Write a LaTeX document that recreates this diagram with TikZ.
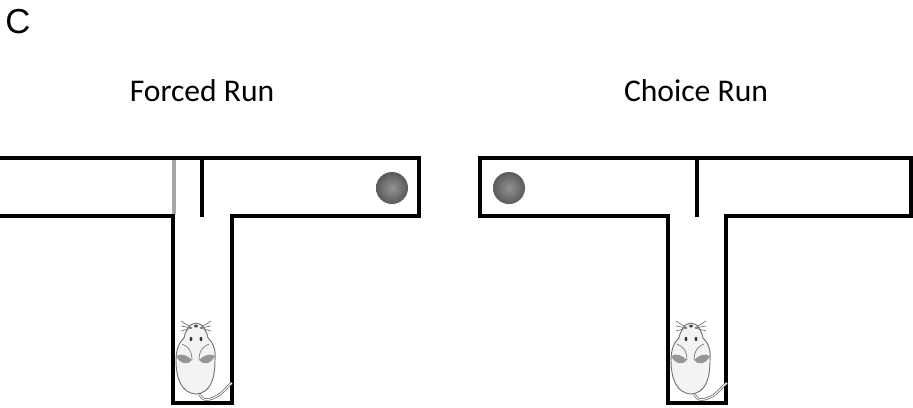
\documentclass[tikz,border=0pt]{standalone}
\usepackage{fontspec}
\setmainfont{Carlito}
\newfontfamily\panelfont{Liberation Sans}
\definecolor{doorgray}{RGB}{165,165,165}
\definecolor{furgray}{RGB}{243,243,243}
\definecolor{inkgray}{RGB}{115,115,115}
\definecolor{pawgray}{RGB}{150,150,150}
\definecolor{ballgray}{RGB}{100,100,100}
\usetikzlibrary{positioning}

\begin{document}
\begin{tikzpicture}[x=0.75pt, y=-0.75pt,
  wall/.style={line width=2.6pt, line join=miter},
  title/.style={font=\fontsize{23.7}{28}\selectfont, inner sep=0pt, anchor=base},
  reward/.style={inner color=ballgray!70!white, outer color=ballgray!90!black},
  mouse/.pic={
    % tail
    \draw[inkgray, line width=1.9pt] (4,24) .. controls (6,34) and (14,33) .. (24,27) .. controls (30,23) and (33,17) .. (37,15);
    \draw[white, line width=0.7pt] (4,24) .. controls (6,34) and (14,33) .. (24,27) .. controls (30,23) and (33,17) .. (37,15);
    % head and body
    \draw[inkgray, fill=furgray, line width=0.7pt] (1,-45)
      .. controls (8,-45) and (12,-36) .. (13,-30)
      .. controls (18,-26) and (21,-18) .. (20,-8)
      .. controls (20,10) and (16,25) .. (1,26)
      .. controls (-14,25) and (-19,10) .. (-19,-8)
      .. controls (-19,-18) and (-16,-26) .. (-11,-30)
      .. controls (-10,-36) and (-6,-45) .. cycle;
    % paws
    \fill[pawgray] (-19,-12) .. controls (-14,-3) and (-7,-3) .. (-3,-8) .. controls (-8,-13) and (-14,-15) .. cycle;
    \fill[pawgray] (20,-12) .. controls (15,-3) and (8,-3) .. (4,-8) .. controls (9,-13) and (15,-15) .. cycle;
    \draw[inkgray, line width=0.5pt] (-3,-8) .. controls (-3,-18) and (-8,-22) .. (-13,-24);
    \draw[inkgray, line width=0.5pt] (4,-8) .. controls (4,-18) and (9,-22) .. (14,-24);
    % eyes and nose
    \fill[black!80] (-4,-29) ellipse [x radius=1.4, y radius=2.2];
    \fill[black!80] (6,-29) ellipse [x radius=1.4, y radius=2.2];
    \fill[black!70] (1,-42) ellipse [x radius=2, y radius=1.5];
    % whiskers
    \foreach \wy in {-47,-42,-37}
      \draw[inkgray, line width=0.5pt] (-3,-40) -- (-14,\wy) (5,-40) -- (16,\wy);
  }]
\useasboundingbox (0,0) rectangle (913,407);

\node[inner sep=0pt, anchor=base west, font=\panelfont\fontsize{26}{30}\selectfont] (panel) at (5,33) {C};
\node[title] (forced) at (202,101) {Forced Run};
\node[title] (choice) at (696,101) {Choice Run};

% forced run maze
\draw[wall] (0,158) -- (419,158) -- (419,216) -- (232,216) -- (232,403) -- (173,403) -- (173,216) -- (0,216);
\draw[wall] (202,158) -- (202,217);
\draw[doorgray, line width=2.6pt] (174,160) -- (174,214);
\shade[reward] (392,188) circle [radius=16];
\pic at (195,368) {mouse};

% choice run maze
\draw[wall] (668,216) -- (480,216) -- (480,158) -- (911,158) -- (911,216) -- (726,216) -- (726,403) -- (668,403) -- cycle;
\draw[wall] (697,158) -- (697,217);
\shade[reward] (509,188) circle [radius=16];
\pic at (690,368) {mouse};
\end{tikzpicture}
\end{document}
